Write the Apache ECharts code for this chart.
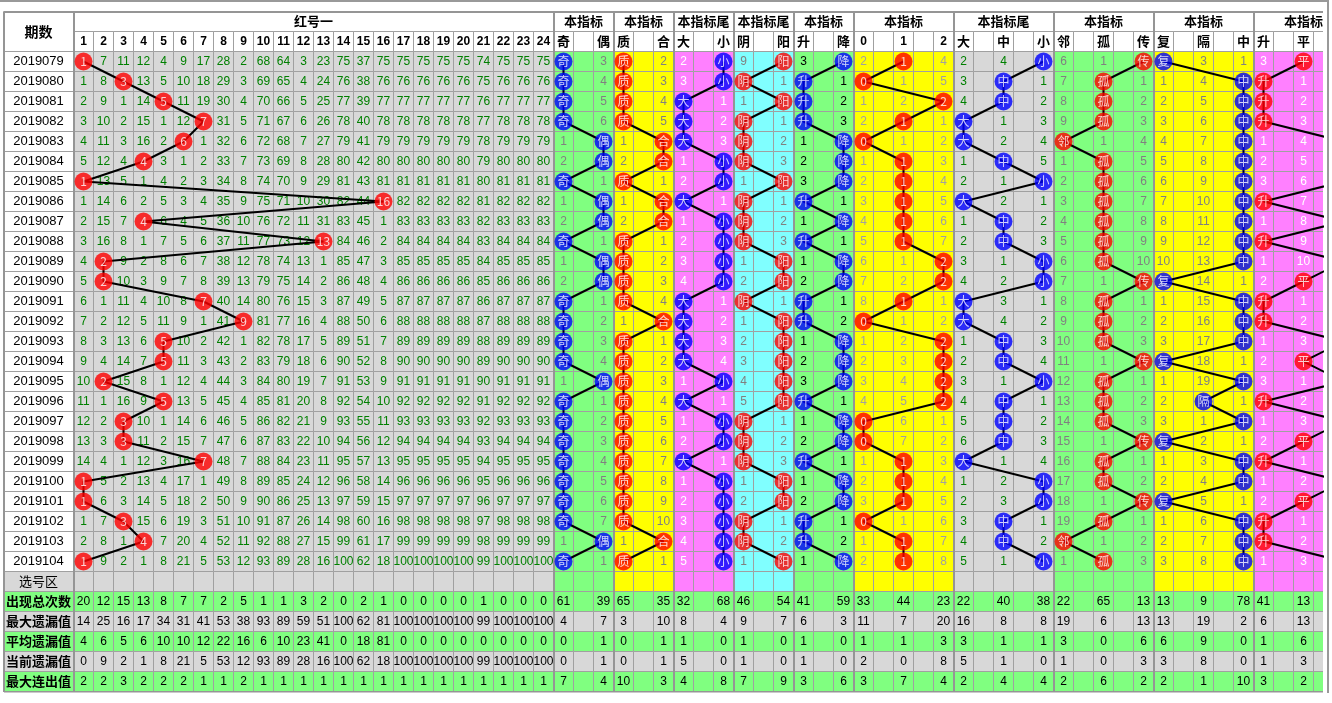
<!DOCTYPE html>
<html><head><meta charset="utf-8">
<script src="https://cdn.jsdelivr.net/npm/echarts@6/dist/echarts.min.js"></script>
<style>html,body{margin:0;padding:0;background:#fff;overflow:hidden}#c{width:1332px;height:703px}</style>
</head><body><div id="c"></div>
<script>
// ---------------- DATA ----------------
const periods = ['2019079','2019080','2019081','2019082','2019083','2019084','2019085','2019086','2019087','2019088','2019089','2019090','2019091','2019092','2019093','2019094','2019095','2019096','2019097','2019098','2019099','2019100','2019101','2019102','2019103','2019104'];
const redCols = ['1','2','3','4','5','6','7','8','9','10','11','12','13','14','15','16','17','18','19','20','21','22','23','24'];
const redHit = [1,3,5,7,6,4,1,16,4,13,2,2,7,9,5,5,2,5,3,3,7,1,1,3,4,1];
const redMiss = [
[1,7,11,12,4,9,17,28,2,68,64,3,23,75,37,75,75,75,75,75,74,75,75,75],
[1,8,3,13,5,10,18,29,3,69,65,4,24,76,38,76,76,76,76,76,75,76,76,76],
[2,9,1,14,5,11,19,30,4,70,66,5,25,77,39,77,77,77,77,77,76,77,77,77],
[3,10,2,15,1,12,7,31,5,71,67,6,26,78,40,78,78,78,78,78,77,78,78,78],
[4,11,3,16,2,6,1,32,6,72,68,7,27,79,41,79,79,79,79,79,78,79,79,79],
[5,12,4,4,3,1,2,33,7,73,69,8,28,80,42,80,80,80,80,80,79,80,80,80],
[1,13,5,1,4,2,3,34,8,74,70,9,29,81,43,81,81,81,81,81,80,81,81,81],
[1,14,6,2,5,3,4,35,9,75,71,10,30,82,44,16,82,82,82,82,81,82,82,82],
[2,15,7,4,6,4,5,36,10,76,72,11,31,83,45,1,83,83,83,83,82,83,83,83],
[3,16,8,1,7,5,6,37,11,77,73,12,13,84,46,2,84,84,84,84,83,84,84,84],
[4,2,9,2,8,6,7,38,12,78,74,13,1,85,47,3,85,85,85,85,84,85,85,85],
[5,2,10,3,9,7,8,39,13,79,75,14,2,86,48,4,86,86,86,86,85,86,86,86],
[6,1,11,4,10,8,7,40,14,80,76,15,3,87,49,5,87,87,87,87,86,87,87,87],
[7,2,12,5,11,9,1,41,9,81,77,16,4,88,50,6,88,88,88,88,87,88,88,88],
[8,3,13,6,5,10,2,42,1,82,78,17,5,89,51,7,89,89,89,89,88,89,89,89],
[9,4,14,7,5,11,3,43,2,83,79,18,6,90,52,8,90,90,90,90,89,90,90,90],
[10,2,15,8,1,12,4,44,3,84,80,19,7,91,53,9,91,91,91,91,90,91,91,91],
[11,1,16,9,5,13,5,45,4,85,81,20,8,92,54,10,92,92,92,92,91,92,92,92],
[12,2,3,10,1,14,6,46,5,86,82,21,9,93,55,11,93,93,93,93,92,93,93,93],
[13,3,3,11,2,15,7,47,6,87,83,22,10,94,56,12,94,94,94,94,93,94,94,94],
[14,4,1,12,3,16,7,48,7,88,84,23,11,95,57,13,95,95,95,95,94,95,95,95],
[1,5,2,13,4,17,1,49,8,89,85,24,12,96,58,14,96,96,96,96,95,96,96,96],
[1,6,3,14,5,18,2,50,9,90,86,25,13,97,59,15,97,97,97,97,96,97,97,97],
[1,7,3,15,6,19,3,51,10,91,87,26,14,98,60,16,98,98,98,98,97,98,98,98],
[2,8,1,4,7,20,4,52,11,92,88,27,15,99,61,17,99,99,99,99,98,99,99,99],
[1,9,2,1,8,21,5,53,12,93,89,28,16,100,62,18,100,100,100,100,99,100,100,100]
];

const groupTitles = ['本指标','本指标','本指标尾','本指标尾','本指标','本指标','本指标尾','本指标','本指标','本指标'];
const groupLabels = [['奇','偶'],['质','合'],['大','小'],['阴','阳'],['升','降'],['0','1','2'],['大','中','小'],['邻','孤','传'],['复','隔','中'],['升','平','降']];

const oeHit = ['奇','奇','奇','奇','偶','偶','奇','偶','偶','奇','偶','偶','奇','奇','奇','奇','偶','奇','奇','奇','奇','奇','奇','奇','偶','奇'];
const oeMiss = [3,4,5,6,1,2,1,1,2,1,1,2,1,2,3,4,1,1,2,3,4,5,6,7,1,1];
const zhHit = ['质','质','质','质','合','合','质','合','合','质','质','质','质','合','质','质','质','质','质','质','质','质','质','质','合','质'];
const zhMiss = [2,3,4,5,1,2,1,1,2,1,2,3,4,1,1,2,3,4,5,6,7,8,9,10,1,1];
const dxHit = ['小','小','大','大','大','小','小','大','小','小','小','小','大','大','大','大','小','大','小','小','大','小','小','小','小','小'];
const dxMiss = [2,3,1,2,3,1,2,1,1,2,3,4,1,2,3,4,1,1,1,2,1,1,2,3,4,5];
const yyHit = ['阳','阴','阳','阴','阴','阴','阳','阴','阴','阴','阳','阳','阴','阳','阳','阳','阳','阳','阴','阴','阴','阳','阳','阴','阴','阳'];
const yyMiss = [9,1,1,1,2,3,1,1,2,3,1,2,1,1,2,3,4,5,1,2,3,1,2,1,2,1];
const sjHit = ['降','升','升','升','降','降','降','升','降','升','降','降','升','升','降','降','降','升','降','降','升','降','降','升','升','降'];
const sjMiss = [3,1,2,3,1,2,3,1,1,1,1,2,1,2,1,2,3,1,1,2,1,1,2,1,2,1];
const m012 = [[2,null,4],[null,1,5],[1,2,null],[2,null,1],[null,1,2],[1,null,3],[2,null,4],[3,null,5],[4,null,6],[5,null,7],[6,1,null],[7,2,null],[8,null,1],[null,1,2],[1,2,null],[2,3,null],[3,4,null],[4,5,null],[null,6,1],[null,7,2],[1,null,3],[2,null,4],[3,null,5],[null,1,6],[1,null,7],[2,null,8]];
const mDzx = [[2,4,null],[3,null,1],[4,null,2],[null,1,3],[null,2,4],[1,null,5],[2,1,null],[null,2,1],[1,null,2],[2,null,3],[3,1,null],[4,2,null],[null,3,1],[null,4,2],[1,null,3],[2,null,4],[3,1,null],[4,null,1],[5,null,2],[6,null,3],[null,1,4],[1,2,null],[2,3,null],[3,null,1],[4,null,2],[5,1,null]];
const mLgc = [[6,1,null],[7,null,1],[8,null,2],[9,null,3],[null,1,4],[1,null,5],[2,null,6],[3,null,7],[4,null,8],[5,null,9],[6,null,10],[7,1,null],[8,null,1],[9,null,2],[10,null,3],[11,1,null],[12,null,1],[13,null,2],[14,null,3],[15,1,null],[16,null,1],[17,null,2],[18,1,null],[19,null,1],[null,1,2],[1,null,3]];
const mFgz = [[null,3,1],[1,4,null],[2,5,null],[3,6,null],[4,7,null],[5,8,null],[6,9,null],[7,10,null],[8,11,null],[9,12,null],[10,13,null],[null,14,1],[1,15,null],[2,16,null],[3,17,null],[null,18,1],[1,19,null],[2,null,1],[3,1,null],[null,2,1],[1,3,null],[2,4,null],[null,5,1],[1,6,null],[2,7,null],[3,8,null]];
const jHit = ['平','升','升','升','降','降','降','升','降','升','降','平','升','升','降','平','降','升','降','平','升','降','平','升','升','降'];
const jMiss = [[3,null],[null,1],[null,2],[null,3],[1,4],[2,5],[3,6],[null,7],[1,8],[null,9],[1,10],[2,null],[null,1],[null,2],[1,3],[2,null],[3,1],[null,2],[1,3],[2,null],[null,1],[1,2],[2,null],[null,1],[null,2],[1,3]];

const statLabels = ['出现总次数','最大遗漏值','平均遗漏值','当前遗漏值','最大连出值'];
const statRedTotal = [20,12,15,13,8,7,7,2,5,1,1,3,2,0,2,1,0,0,0,0,1,0,0,0];
const statRedMaxMiss = [14,25,16,17,34,31,41,53,38,93,89,59,51,100,62,81,100,100,100,100,99,100,100,100];
const statRedAvgMiss = [4,6,5,6,10,10,12,22,16,6,10,23,41,0,18,81,0,0,0,0,0,0,0,0];
const statRedCurMiss = [0,9,2,1,8,21,5,53,12,93,89,28,16,100,62,18,100,100,100,100,99,100,100,100];
const statRedMaxRun = [2,2,3,2,2,2,1,1,2,1,1,1,1,1,1,1,1,1,1,1,1,1,1,1];
const statIdxTotal = [61,39,65,35,32,68,46,54,41,59,33,44,23,22,40,38,22,65,13,13,9,78,41,13];
const statIdxMaxMiss = [4,7,3,10,8,4,9,7,6,3,11,7,20,16,8,8,19,6,13,13,19,2,6,13];
const statIdxAvgMiss = [0,1,0,1,1,0,1,0,1,0,1,1,3,3,1,1,3,0,6,6,9,0,1,6];
const statIdxCurMiss = [0,1,0,1,5,0,1,0,1,0,2,0,8,5,1,0,1,0,3,3,8,0,1,3];
const statIdxMaxRun = [7,4,10,3,4,8,7,9,3,6,3,7,4,2,4,4,2,6,2,2,1,10,3,2];

// ---------------- STYLE ----------------
const C_GRAY='#d8d8d8', C_GREEN='#80ff80', C_YELLOW='#ffff00', C_PINK='#ff80ff', C_CYAN='#80ffff';
const LINE='#a0a0a0', THICK='#959595';
const groupWidth=[3,3,3,3,3,5,5,5,5,5];
const groupBg=[C_GREEN,C_YELLOW,C_PINK,C_CYAN,C_GREEN,C_YELLOW,C_GRAY,C_GREEN,C_YELLOW,C_PINK];
const groupFg=['#808080','#808080','#ffffff','#808080','#000000','#a0a0a0','#008000','#808080','#808080','#ffffff'];
const groupBall=['#0000ff','#ff0000','#0000ff','#ff0000','#0000ff','#ff0000','#0000ff','#ff0000','#0000ff','#ff0000'];
const F_NUM='12px "Liberation Sans", Arial, sans-serif';
const F_PER='13px "Liberation Sans", Arial, sans-serif';
const F_HNUM='bold 12px "Liberation Sans", Arial, sans-serif';
const F_HCJK='bold 13px "Noto Sans CJK SC", sans-serif';
const F_CJK='13px "Noto Sans CJK SC", sans-serif';
const F_STAT='bold 13px "Noto Sans CJK SC", sans-serif';

const RED0=3.5, RIGHT0=27.5, XMAX=65.925, NROW=periods.length;
const groupStart=[]; {let s=RIGHT0; for(const w of groupWidth){groupStart.push(s); s+=w;}}

function groupRow(g,i){
  if(g<5){
    const hitArr=[oeHit,zhHit,dxHit,yyHit,sjHit][g], missArr=[oeMiss,zhMiss,dxMiss,yyMiss,sjMiss][g];
    const h=groupLabels[g].indexOf(hitArr[i]); const v=[null,null]; v[1-h]=missArr[i]; return {hit:h, vals:v};
  }
  if(g<9){ const m=[m012,mDzx,mLgc,mFgz][g-5][i]; return {hit:m.indexOf(null), vals:m}; }
  return {hit:groupLabels[9].indexOf(jHit[i]), vals:[jMiss[i][0], jMiss[i][1], null]};
}

// ---------------- CELLS ----------------
const cells=[];
function addCell(x0,x1,r0,r1,text,bg,fg,font,stroke){
  cells.push({value:[x0,x1,r0,r1], text:(text===null||text===undefined)?'':String(text), bg, fg, font, stroke:stroke===undefined?LINE:stroke});
}
// header
addCell(0,RED0,0,2,'期数','#fff','#000','bold 14px "Noto Sans CJK SC", sans-serif');
addCell(RED0,RED0+24,0,1,'红号一','#fff','#000',F_HCJK);
redCols.forEach((t,k)=>addCell(RED0+k,RED0+k+1,1,2,t,'#fff','#000',F_HNUM));
groupTitles.forEach((t,g)=>{
  const s=groupStart[g], w=groupWidth[g];
  addCell(s,s+w,0,1,t,'#fff','#000',F_HCJK);
  for(let c=0;c<w;c++){
    const lab=(c%2===0)?groupLabels[g][c/2]:'';
    addCell(s+c,s+c+1,1,2,lab,'#fff','#000',/[0-9]/.test(lab)?F_HNUM:F_HCJK);
  }
});
// data rows
const balls=[]; const lineSets=[]; for(let g=0;g<=10;g++) lineSets.push([]);
for(let i=0;i<NROW;i++){
  const r=2+i;
  addCell(0,RED0,r,r+1,periods[i],'#fff','#000',F_PER);
  for(let k=0;k<24;k++){
    const hit=(k+1)===redHit[i];
    addCell(RED0+k,RED0+k+1,r,r+1,hit?'':redMiss[i][k],C_GRAY,'#008000',F_NUM);
  }
  const bx=RED0+redHit[i]-0.5, by=r+0.5;
  balls.push({value:[bx,by], name:String(redHit[i]), itemStyle:{color:'#ff0000'}});
  lineSets[0].push([bx,by]);
  for(let g=0;g<10;g++){
    const s=groupStart[g], w=groupWidth[g]; const gr=groupRow(g,i);
    for(let c=0;c<w;c++){
      let t='';
      if(c%2===0){ const o=c/2; if(o!==gr.hit && gr.vals[o]!==null && gr.vals[o]!==undefined) t=gr.vals[o]; }
      addCell(s+c,s+c+1,r,r+1,t,groupBg[g],groupFg[g],F_NUM);
    }
    const x=s+2*gr.hit+0.5;
    balls.push({value:[x,by], name:groupLabels[g][gr.hit], itemStyle:{color:groupBall[g]}});
    lineSets[g+1].push([x,by]);
  }
}
// 选号区
{
  const r=2+NROW;
  addCell(0,RED0,r,r+1,'选号区',C_GRAY,'#000',F_CJK);
  for(let k=0;k<24;k++) addCell(RED0+k,RED0+k+1,r,r+1,'',C_GRAY,'#000',F_NUM);
  for(let g=0;g<10;g++) for(let c=0;c<groupWidth[g];c++) addCell(groupStart[g]+c,groupStart[g]+c+1,r,r+1,'',groupBg[g],'#000',F_NUM);
}
// stats
const statRed=[statRedTotal,statRedMaxMiss,statRedAvgMiss,statRedCurMiss,statRedMaxRun];
const statIdx=[statIdxTotal,statIdxMaxMiss,statIdxAvgMiss,statIdxCurMiss,statIdxMaxRun];
statLabels.forEach((lab,s)=>{
  const r=3+NROW+s, bg=(s%2===0)?C_GREEN:C_GRAY;
  addCell(0,RED0,r,r+1,lab,bg,'#000',F_STAT);
  for(let k=0;k<24;k++) addCell(RED0+k,RED0+k+1,r,r+1,statRed[s][k],bg,'#000',F_NUM);
  let idx=0;
  for(let g=0;g<10;g++){
    for(let c=0;c<groupWidth[g];c++){
      let t='';
      if(c%2===0 && c/2<groupLabels[g].length){ t=statIdx[s][idx]; idx++; }
      addCell(groupStart[g]+c,groupStart[g]+c+1,r,r+1,t,bg,'#000',F_NUM);
    }
  }
});
const NTOT=3+NROW+statLabels.length; // 34 rows

// thick dividers
const dividers=[[0,0,0,NTOT],[0,0,XMAX+1,0],[0,NTOT,XMAX+1,NTOT],[RED0,0,RED0,NTOT]];
groupStart.forEach(s=>dividers.push([s,0,s,NTOT]));

// ---------------- CHART ----------------
const chart=echarts.init(document.getElementById('c'),null,{renderer:'canvas'});
const series=[];
series.push({
  type:'custom', coordinateSystem:'cartesian2d', clip:true, silent:true, z:1, progressive:0,
  encode:{x:[0,1],y:[2,3]},
  data:cells.map(c=>c.value),
  renderItem:function(params,api){
    const c=cells[params.dataIndex];
    const p0=api.coord([api.value(0),api.value(2)]), p1=api.coord([api.value(1),api.value(3)]);
    const el={type:'rect', shape:{x:p0[0],y:p0[1],width:p1[0]-p0[0],height:p1[1]-p0[1]},
      style:{fill:c.bg, stroke:c.stroke, lineWidth:1}};
    if(c.text!==''){
      el.textContent={style:{text:c.text, fill:c.fg, font:c.font}};
      el.textConfig={position:'inside'};
    }
    return el;
  }
});
series.push({
  type:'custom', coordinateSystem:'cartesian2d', clip:true, silent:true, z:2,
  encode:{x:[0,2],y:[1,3]},
  data:dividers,
  renderItem:function(params,api){
    const p0=api.coord([api.value(0),api.value(1)]), p1=api.coord([api.value(2),api.value(3)]);
    return {type:'line', shape:{x1:p0[0]+0.5,y1:p0[1]+0.5,x2:p1[0]+0.5,y2:p1[1]+0.5}, style:{stroke:THICK,lineWidth:2}};
  }
});
lineSets.forEach(ls=>series.push({
  type:'line', data:ls, symbol:'none', showSymbol:false, silent:true, z:3, clip:true,
  lineStyle:{color:'#000',width:2}, animation:false
}));
series.push({
  type:'scatter', data:balls, symbol:'circle', symbolSize:18, silent:true, z:5, clip:true,
  label:{show:true, position:'inside', formatter:p=>p.name, color:'#fff', fontSize:12, fontFamily:'"Noto Sans CJK SC", sans-serif'}
});

chart.setOption({
  animation:false,
  backgroundColor:'#fff',
  grid:{left:2.5, top:10.5, width:1319.5, height:(NTOT+0.1)*20, containLabel:false},
  xAxis:{type:'value', min:-0.05, max:XMAX, show:false},
  yAxis:{type:'value', min:-0.05, max:NTOT+0.05, inverse:true, show:false},
  graphic:[
    {type:'line', shape:{x1:0,y1:1,x2:1329,y2:1}, style:{stroke:'#999',lineWidth:2}, z:10},
    {type:'line', shape:{x1:1328,y1:0,x2:1328,y2:693}, style:{stroke:'#999',lineWidth:2}, z:10}
  ],
  series:series
});
</script></body></html>
